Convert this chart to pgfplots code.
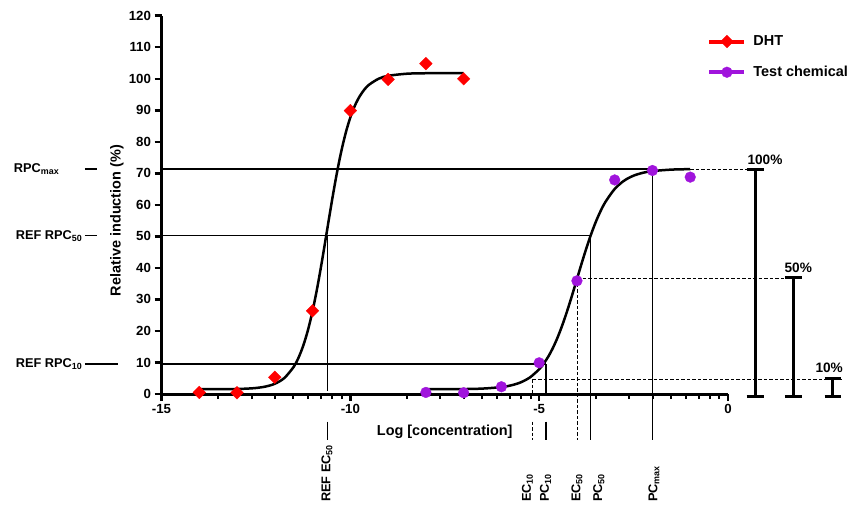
\documentclass[border=0pt]{standalone}
\usepackage{fontspec}
\setmainfont{Liberation Sans}
\usepackage{pgfplots}
\pgfplotsset{compat=1.18}
\definecolor{dhtred}{RGB}{255,0,0}
\definecolor{tcpurple}{RGB}{160,20,220}
\newcommand\lab{\bfseries\fontsize{14.5}{16}\selectfont}
\newcommand\pct{\bfseries\fontsize{13.7}{16}\selectfont}
\newcommand\sml{\bfseries\fontsize{12.8}{15}\selectfont}
\newcommand\tik{\bfseries\fontsize{13.3}{15}\selectfont}
\begin{document}
\begin{tikzpicture}
\path[use as bounding box] (0bp,0bp) rectangle (860bp,-508bp);
\begin{axis}[
  at={(161.5bp,-394bp)}, anchor=south west,
  scale only axis, width=566.5bp, height=378.3bp,
  xmin=-15, xmax=0, ymin=0, ymax=120,
  clip=false,
  axis x line=bottom, axis y line=left,
  axis line style={-, line width=3bp, black},
  xtick={-15,-10,-5,0},
  minor xtick={-13.4949,-12.6144,-11.9897,-11.5051,-11.1092,-10.7745,-10.4846,-10.2288,
               -8.4949,-7.6144,-6.9897,-6.5051,-6.1092,-5.7745,-5.4846,-5.2288,
               -3.4949,-2.6144,-1.9897,-1.5051,-1.1092,-0.7745,-0.4846,-0.2288},
  ytick={0,10,...,120},
  tick align=outside,
  major tick length=7bp, minor tick length=5bp,
  major tick style={black, line width=2.5bp},
  minor tick style={black, line width=2bp},
  tick label style={font=\tik},
  /pgf/number format/assume math mode=true,
  xlabel={Log [concentration]},
  x label style={at={(axis cs:-7.5,-11.97)}, anchor=center, font=\lab},
  ylabel={Relative induction (\%)},
  y label style={at={(axis cs:-16.18,55)}, anchor=center, font=\lab},
  legend style={at={(axis cs:-0.55,114.0)}, anchor=north west, draw=none, fill=none,
    inner sep=0pt, row sep=17bp, font=\lab,
    nodes={inner sep=1bp, anchor=west},
    /tikz/column 1/.style={column sep=6bp}},
  legend cell align=left,
]
% data
\addplot[only marks, mark=square*, mark size=4.5bp,
  mark options={rotate=45, fill=dhtred, draw=dhtred, line width=0.3bp},
  legend image code/.code={
    \draw[dhtred, line width=4bp] (0bp,0bp) -- (35bp,0bp);
    \draw[dhtred, fill=dhtred, line width=0.3bp] plot[only marks, mark=square*, mark size=4.5bp, mark options={rotate=45}] coordinates {(17.5bp,0bp)};
  }]
  coordinates {(-14,0.5) (-13,0.4) (-12,5.3) (-11,26.4) (-10,89.9) (-9,99.8) (-8,104.8) (-7,100)};
\addlegendentry{DHT}
\addplot[only marks, mark=*, mark size=5.4bp,
  mark options={fill=tcpurple, draw=tcpurple, line width=0.3bp},
  legend image code/.code={
    \draw[tcpurple, line width=4bp] (0bp,0bp) -- (35bp,0bp);
    \draw[tcpurple, fill=tcpurple, line width=0.3bp] plot[only marks, mark=*, mark size=5.4bp] coordinates {(17.5bp,0bp)};
  }]
  coordinates {(-8,0.5) (-7,0.4) (-6,2.3) (-5,9.9) (-4,35.9) (-3,67.9) (-2,70.9) (-1,68.8)};
\addlegendentry{Test chemical}
% fitted curves
\addplot[black, line width=2.5bp, smooth, forget plot] coordinates {
 (-14,1.51) (-13.5,1.52) (-13,1.60) (-12.75,1.70) (-12.5,1.91) (-12.25,2.35) (-12,3.24)
 (-11.75,5.05) (-11.5,8.61) (-11.375,11.43) (-11.25,15.22) (-11.125,20.15) (-11,26.34)
 (-10.875,33.77) (-10.75,42.22) (-10.625,51.28) (-10.5,60.36) (-10.375,68.88) (-10.25,76.41)
 (-10.125,82.71) (-10,87.73) (-9.875,91.60) (-9.75,94.49) (-9.625,96.62) (-9.5,98.15)
 (-9.25,100.01) (-9,100.93) (-8.5,101.60) (-8,101.75) (-7.5,101.79) (-7,101.80)};
\addplot[black, line width=2.5bp, smooth, forget plot] coordinates {
 (-8,1.51) (-7.5,1.52) (-7,1.57) (-6.5,1.72) (-6,2.19) (-5.75,2.72) (-5.5,3.64) (-5.25,5.22)
 (-5,7.85) (-4.875,9.72) (-4.75,12.05) (-4.625,14.90) (-4.5,18.29) (-4.375,22.24) (-4.25,26.66)
 (-4.125,31.45) (-4,36.45) (-3.875,41.45) (-3.75,46.24) (-3.625,50.67) (-3.5,54.61)
 (-3.375,58.0) (-3.25,60.85) (-3,65.05) (-2.75,67.68) (-2.5,69.26) (-2.25,70.18)
 (-2,70.71) (-1.5,71.18) (-1,71.33)};
% reference lines (solid)
\pgfplotsset{refl/.style={black, line width=1.2bp, forget plot},
             refd/.style={black, line width=1.1bp, dash pattern=on 3.5bp off 2bp, forget plot},
             brk/.style={black, line width=3bp, forget plot}}
\addplot[refl] coordinates {(-15,71.4) (-2,71.4)};
\addplot[refl] coordinates {(-2,71.4) (-2,-14.6)};
\addplot[refl] coordinates {(-15,50.2) (-3.64,50.2)};
\addplot[refl] coordinates {(-3.64,50.2) (-3.64,-14.6)};
\addplot[refl] coordinates {(-10.6,50.2) (-10.6,1)};
\addplot[refl] coordinates {(-10.6,-8.8) (-10.6,-14.6)};
\addplot[refl] coordinates {(-15,9.5) (-4.82,9.5)};
\addplot[refl] coordinates {(-4.82,9.5) (-4.82,0)};
\addplot[refl] coordinates {(-4.82,-8.8) (-4.82,-14.6)};
\addplot[refl] coordinates {(-17.03,71.4) (-16.71,71.4)};
\addplot[refl] coordinates {(-17.03,50.2) (-16.71,50.2)};
\addplot[refl] coordinates {(-17.03,9.5) (-16.16,9.5)};
% dashed
\addplot[refd] coordinates {(-1,71.1) (0.52,71.1)};
\addplot[refd] coordinates {(-3.99,36.7) (1.49,36.7)};
\addplot[refd] coordinates {(-3.99,36.7) (-3.99,-14.6)};
\addplot[refd] coordinates {(-5.17,4.7) (3.0,4.7)};
\addplot[refd] coordinates {(-5.17,4.7) (-5.17,0)};
\addplot[refd] coordinates {(-5.17,-8.8) (-5.17,-14.6)};
% brackets
\addplot[brk] coordinates {(0.716,-0.85) (0.716,71.3)};
\addplot[brk] coordinates {(0.491,71.3) (0.941,71.3)};
\addplot[brk] coordinates {(0.491,-0.85) (0.941,-0.85)};
\addplot[brk] coordinates {(1.73,-0.85) (1.73,36.9)};
\addplot[brk] coordinates {(1.505,36.9) (1.955,36.9)};
\addplot[brk] coordinates {(1.505,-0.85) (1.955,-0.85)};
\addplot[brk] coordinates {(2.78,-0.85) (2.78,5.0)};
\addplot[brk] coordinates {(2.555,5.0) (3.005,5.0)};
\addplot[brk] coordinates {(2.555,-0.85) (3.005,-0.85)};
% text
\node[font=\pct] at (axis cs:0.98,74.3) {100\%};
\node[font=\pct] at (axis cs:1.86,40.0) {50\%};
\node[font=\pct] at (axis cs:2.68,8.25) {10\%};
\node[font=\sml, anchor=west] at (axis cs:-19.0,71.4) {RPC\textsubscript{max}};
\node[font=\sml, anchor=west] at (axis cs:-18.95,50.2) {REF RPC\textsubscript{50}};
\node[font=\sml, anchor=west] at (axis cs:-18.95,9.5) {REF RPC\textsubscript{10}};
\node[font=\sml, rotate=90, anchor=west] at (axis cs:-10.62,-35.3) {REF EC\textsubscript{50}};
\node[font=\sml, rotate=90, anchor=west] at (axis cs:-5.31,-35.3) {EC\textsubscript{10}};
\node[font=\sml, rotate=90, anchor=west] at (axis cs:-4.83,-35.3) {PC\textsubscript{10}};
\node[font=\sml, rotate=90, anchor=west] at (axis cs:-4.0,-35.3) {EC\textsubscript{50}};
\node[font=\sml, rotate=90, anchor=west] at (axis cs:-3.42,-35.3) {PC\textsubscript{50}};
\node[font=\sml, rotate=90, anchor=west] at (axis cs:-1.96,-35.3) {PC\textsubscript{max}};
\end{axis}
\end{tikzpicture}
\end{document}
